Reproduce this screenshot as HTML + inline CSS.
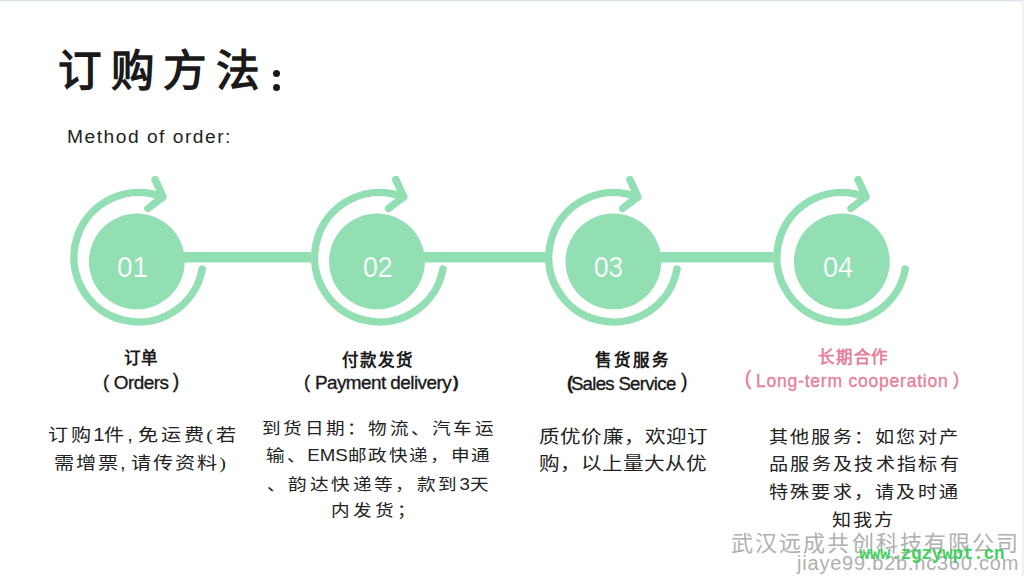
<!DOCTYPE html>
<html lang="zh-CN"><head><meta charset="utf-8">
<style>
html,body{margin:0;padding:0;}
body{width:1024px;height:576px;position:relative;overflow:hidden;background:#fff;font-family:"Liberation Sans",sans-serif;}
.t{position:absolute;white-space:nowrap;line-height:1;}
.bd{position:absolute;}
svg{position:absolute;left:0;top:0;}
svg circle, svg rect{fill:#92dfb3;}
svg .s{fill:none;stroke:#92dfb3;stroke-width:7.5;stroke-linecap:round;stroke-linejoin:round;}
.title{font-weight:bold;color:#1a1a1a;} .sub{color:#222;} .num{color:#fff;} .lab{font-weight:900;color:#1a1a1a;} .en{color:#1a1a1a;} .pink{color:#e6809a;} .body{font-family:"Liberation Serif",serif;color:#222;} .wm{color:#b0b0b0;} .grn{color:#3fd060;font-family:"Liberation Mono",monospace;font-weight:bold;} .lat{font-family:"Liberation Sans",sans-serif;letter-spacing:0;} .b{font-weight:bold;} .en{-webkit-text-stroke:0.35px currentColor;} .dot{position:absolute;width:7.2px;height:7.2px;border-radius:50%;background:#1a1a1a;}
</style></head><body>
<div class="bd" style="left:0;top:0;width:1024px;height:1px;background:#dfe3e6;"></div>
<div class="bd" style="left:0;top:1px;width:1024px;height:1px;background:#f3f7fa;"></div>
<div class="bd" style="right:0;top:0;width:2px;height:576px;background:#eef0f8;"></div>
<svg width="1024" height="576" viewBox="0 0 1024 576">
<circle cx="136.85" cy="261.45" r="47.90"/>
<path class="s" d="M202.22 269.09A64.7 64.7 0 1 1 162.84 197.31M155.10 179.60L163.00 196.80L148.00 208.40"/>
<circle cx="376.98" cy="261.45" r="47.90"/>
<path class="s" d="M442.92 269.09A64.7 64.7 0 1 1 403.54 197.31M395.80 179.60L403.70 196.80L388.70 208.40"/>
<circle cx="613.40" cy="261.45" r="47.90"/>
<path class="s" d="M677.02 269.09A64.7 64.7 0 1 1 637.64 197.31M629.90 179.60L637.80 196.80L622.80 208.40"/>
<circle cx="841.85" cy="261.45" r="47.90"/>
<path class="s" d="M905.22 269.09A64.7 64.7 0 1 1 865.84 197.31M858.10 179.60L866.00 196.80L851.00 208.40"/>
<rect x="176.85" y="252" width="134.10" height="10.5"/>
<rect x="416.98" y="252" width="128.07" height="10.5"/>
<rect x="653.40" y="252" width="119.85" height="10.5"/>
</svg>
<div id="title" class="t title" style="left:58.00px;top:50.07px;font-size:43.61px;letter-spacing:8.65px;">订购方法</div>
<div id="sub" class="t sub" style="left:67.01px;top:126.71px;font-size:19.20px;letter-spacing:1.51px;">Method of order:</div>
<div id="num1" class="t num" style="left:116.96px;top:251.78px;font-size:30.00px;letter-spacing:0.00px;transform:scaleX(0.9300);transform-origin:0 0;-webkit-text-stroke:0.25px #92dfb3;">01</div>
<div id="num2" class="t num" style="left:362.96px;top:251.78px;font-size:30.00px;letter-spacing:0.00px;transform:scaleX(0.8878);transform-origin:0 0;-webkit-text-stroke:0.25px #92dfb3;">02</div>
<div id="num3" class="t num" style="left:593.96px;top:251.78px;font-size:30.00px;letter-spacing:0.00px;transform:scaleX(0.8743);transform-origin:0 0;-webkit-text-stroke:0.25px #92dfb3;">03</div>
<div id="num4" class="t num" style="left:822.95px;top:251.78px;font-size:30.00px;letter-spacing:0.00px;transform:scaleX(0.9041);transform-origin:0 0;-webkit-text-stroke:0.25px #92dfb3;">04</div>
<div id="lab1" class="t lab" style="left:123.99px;top:350.01px;font-size:16.50px;letter-spacing:-0.15px;">订单</div>
<div id="lab2" class="t lab" style="left:342.01px;top:351.98px;font-size:16.50px;letter-spacing:0.96px;">付款发货</div>
<div id="lab3" class="t lab" style="left:595.00px;top:352.00px;font-size:16.50px;letter-spacing:2.00px;">售货服务</div>
<div id="lab4" class="t lab pink" style="left:818.00px;top:349.00px;font-size:16.50px;letter-spacing:0.80px;">长期合作</div>
<div id="p1l" class="t en" style="left:103.01px;top:373.37px;font-size:18.55px;letter-spacing:0.00px;">(</div>
<div id="w1" class="t en" style="left:113.85px;top:374.27px;font-size:18.91px;letter-spacing:-0.52px;">Orders</div>
<div id="p1r" class="t en" style="left:172.87px;top:372.33px;font-size:19.37px;letter-spacing:0.00px;">)</div>
<div id="p2l" class="t en" style="left:303.98px;top:373.37px;font-size:18.55px;letter-spacing:0.00px;">(</div>
<div id="w2" class="t en" style="left:314.88px;top:373.78px;font-size:18.92px;letter-spacing:-0.55px;">Payment delivery</div>
<div id="p2r" class="t en" style="left:453.05px;top:374.98px;font-size:16.88px;letter-spacing:0.00px;font-weight:bold;">)</div>
<div id="p3l" class="t en" style="left:567.00px;top:373.88px;font-size:18.34px;letter-spacing:0.00px;font-weight:bold;">(</div>
<div id="w3" class="t en" style="left:570.89px;top:374.57px;font-size:18.61px;letter-spacing:-0.70px;">Sales Service</div>
<div id="p3r" class="t en" style="left:681.01px;top:372.33px;font-size:19.37px;letter-spacing:0.00px;">)</div>
<div id="p4l" class="t en pink" style="left:744.82px;top:369.33px;font-size:19.97px;letter-spacing:0.00px;">(</div>
<div id="w4" class="t en pink" style="left:756.03px;top:372.80px;font-size:17.49px;letter-spacing:0.79px;">Long-term cooperation</div>
<div id="p4r" class="t en pink" style="left:952.96px;top:370.48px;font-size:18.57px;letter-spacing:0.00px;">)</div>
<div id="b1l1" class="t body" style="left:48.09px;top:426.81px;font-size:17.50px;letter-spacing:2.69px;transform:scaleX(1.1500);transform-origin:0 0;">订购<span class="lat">1</span>件<span class="lat">, </span>免运费(若</div>
<div id="b1l2" class="t body" style="left:54.20px;top:454.84px;font-size:17.50px;letter-spacing:2.12px;transform:scaleX(1.1500);transform-origin:0 0;">需增票<span class="lat">, </span>请传资料)</div>
<div id="b2l1" class="t body" style="left:262.29px;top:420.64px;font-size:16.20px;letter-spacing:2.50px;transform:scaleX(1.1500);transform-origin:0 0;">到货日期：物流、汽车运</div>
<div id="b2l2" class="t body" style="left:266.18px;top:446.73px;font-size:16.20px;letter-spacing:1.92px;transform:scaleX(1.1500);transform-origin:0 0;">输、<span class="lat">EMS</span>邮政快递，申通</div>
<div id="b2l3" class="t body" style="left:266.96px;top:475.73px;font-size:16.20px;letter-spacing:2.59px;transform:scaleX(1.1500);transform-origin:0 0;">、韵达快递等，款到<span class="lat">3</span>天</div>
<div id="b2l4" class="t body" style="left:330.71px;top:502.75px;font-size:16.20px;letter-spacing:3.15px;transform:scaleX(1.1500);transform-origin:0 0;">内发货；</div>
<div id="b3l1" class="t body" style="left:539.18px;top:428.73px;font-size:17.90px;letter-spacing:0.43px;transform:scaleX(1.1500);transform-origin:0 0;">质优价廉，欢迎订</div>
<div id="b3l2" class="t body" style="left:539.26px;top:455.87px;font-size:17.90px;letter-spacing:0.22px;transform:scaleX(1.1500);transform-origin:0 0;">购，以上量大从优</div>
<div id="b4l1" class="t body" style="left:769.21px;top:429.67px;font-size:16.60px;letter-spacing:1.45px;transform:scaleX(1.1500);transform-origin:0 0;">其他服务：如您对产</div>
<div id="b4l2" class="t body" style="left:769.27px;top:456.85px;font-size:16.60px;letter-spacing:1.57px;transform:scaleX(1.1500);transform-origin:0 0;">品服务及技术指标有</div>
<div id="b4l3" class="t body" style="left:769.21px;top:484.75px;font-size:16.60px;letter-spacing:1.47px;transform:scaleX(1.1500);transform-origin:0 0;">特殊要求，请及时通</div>
<div id="b4l4" class="t body" style="left:832.46px;top:512.50px;font-size:16.60px;letter-spacing:1.42px;transform:scaleX(1.1500);transform-origin:0 0;">知我方</div>
<div id="wm1" class="t wm" style="left:731.01px;top:532.96px;font-size:22.00px;letter-spacing:2.12px;">武汉远成共创科技有限公司</div>
<div id="wm2" class="t wm" style="left:797.07px;top:552.80px;font-size:20.00px;letter-spacing:0.78px;">jiaye99.b2b.nc360.com</div>
<div id="grn" class="t grn" style="left:859.30px;top:545.99px;font-size:17.50px;letter-spacing:-0.14px;">www.zgzywpt.cn</div>
<div class="dot" style="left:272.8px;top:69.7px;"></div>
<div class="dot" style="left:272.8px;top:84.1px;"></div>
</body></html>
